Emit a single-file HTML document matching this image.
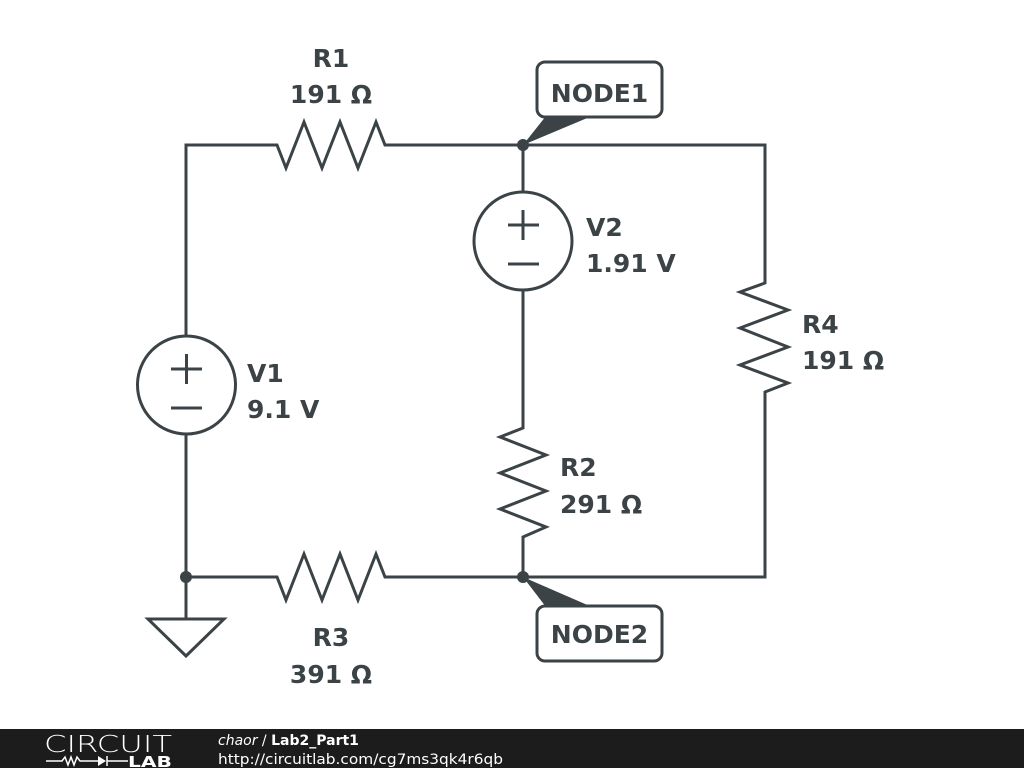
<!DOCTYPE html>
<html><head><meta charset="utf-8"><style>
html,body{margin:0;padding:0;background:#fff;}
svg{display:block;}
.t{font-family:"DejaVu Sans","Liberation Sans",sans-serif;font-weight:bold;font-size:25px;fill:#3b4347;}
</style></head><body>
<svg width="1024" height="768" viewBox="0 0 1024 768" xmlns="http://www.w3.org/2000/svg">
<g stroke="#3b4347" stroke-width="3" fill="none" stroke-linejoin="miter">
<polyline points="186,337 186,145 277,145 286,168 304,122 322,168 340,122 358,168 376,122 385,145 765,145 765,283 740,292 788,310 740,328 788,347 740,365 788,383 765,392 765,577 523,577"/>
<polyline points="186,433 186,618"/>
<polyline points="186,577 277,577 286,600 304,554 322,600 340,554 358,600 376,554 385,577 523,577"/>
<polyline points="523,145 523,192"/>
<polyline points="523,290 523,428 500,437 546,455 500,473 546,491 500,509 546,527 523,537 523,577"/>
<circle cx="186.5" cy="385" r="49"/>
<circle cx="523" cy="241" r="49"/>
<line x1="171" y1="369" x2="202" y2="369"/><line x1="186.5" y1="354" x2="186.5" y2="384"/>
<line x1="171" y1="408" x2="202" y2="408"/>
<line x1="508" y1="225" x2="539" y2="225"/><line x1="523" y1="210" x2="523" y2="240"/>
<line x1="508" y1="264" x2="539" y2="264"/>
<polygon points="148,619 224,619 186,656"/>
<rect x="537" y="62" width="125" height="55" rx="8"/>
<rect x="537" y="606" width="125" height="55" rx="8"/>
</g>
<g fill="#3b4347">
<circle cx="523" cy="145" r="6"/>
<circle cx="523" cy="577" r="6"/>
<circle cx="186" cy="577" r="6"/>
<polygon points="523,145 546,116 592,116"/>
<polygon points="523,577 546,607 592,607"/>
</g>
<text class="t" x="331" y="67" text-anchor="middle">R1</text>
<text class="t" x="331" y="103" text-anchor="middle">191 Ω</text>
<text class="t" x="331" y="646" text-anchor="middle">R3</text>
<text class="t" x="331" y="683" text-anchor="middle">391 Ω</text>
<text class="t" x="247" y="382">V1</text>
<text class="t" x="247" y="418">9.1 V</text>
<text class="t" x="586" y="236">V2</text>
<text class="t" x="586" y="272">1.91 V</text>
<text class="t" x="802" y="333">R4</text>
<text class="t" x="802" y="369">191 Ω</text>
<text class="t" x="560" y="476">R2</text>
<text class="t" x="560" y="513">291 Ω</text>
<text class="t" x="599.5" y="102" text-anchor="middle">NODE1</text>
<text class="t" x="599.5" y="643" text-anchor="middle">NODE2</text>
<rect x="0" y="729" width="1024" height="39" fill="#1c1c1c"/>
<text x="44" y="752" font-family="DejaVu Sans,sans-serif" font-size="23" fill="#fff" textLength="128" lengthAdjust="spacingAndGlyphs" style="font-weight:200">CIRCUIT</text>
<polyline points="46,761 62,761 65,757 68,765 71,757 74,765 77,757 80,761 98,761" stroke="#fff" stroke-width="1.5" fill="none"/>
<polygon points="98,756 98,766 106,761" fill="#fff"/>
<line x1="107" y1="756" x2="107" y2="766" stroke="#fff" stroke-width="1.5"/>
<line x1="107" y1="761" x2="128" y2="761" stroke="#fff" stroke-width="1.5"/>
<text x="128" y="767" font-family="DejaVu Sans,sans-serif" font-weight="bold" font-size="15" fill="#fff" textLength="44" lengthAdjust="spacingAndGlyphs">LAB</text>
<text x="218" y="745" font-family="DejaVu Sans,sans-serif" font-size="14" fill="#fff"><tspan font-style="italic">chaor</tspan> / <tspan font-weight="bold">Lab2_Part1</tspan></text>
<text x="218" y="764" font-family="DejaVu Sans,sans-serif" font-size="14" fill="#fff" textLength="285" lengthAdjust="spacingAndGlyphs">http://circuitlab.com/cg7ms3qk4r6qb</text>
</svg>
</body></html>
